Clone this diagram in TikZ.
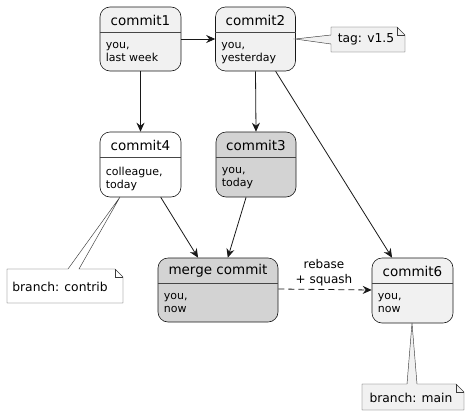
\documentclass[tikz,border=0pt]{standalone}
\usepackage{fontspec}
\setmainfont{DejaVu Sans}
\usetikzlibrary{arrows.meta}
\definecolor{boxfill}{HTML}{F1F1F1}
\definecolor{boxline}{HTML}{181818}
\definecolor{darkfill}{HTML}{D3D3D3}
\tikzset{
  statebox/.style={draw=boxline, line width=0.6pt, rounded corners=10pt, inner sep=0pt},
  titletext/.style={font=\fontsize{13.5}{16}\selectfont, inner sep=0pt, anchor=center},
  bodytext/.style={font=\fontsize{11}{13.5}\selectfont, inner sep=0pt, align=left, anchor=north west},
  notebox/.style={draw=boxline!85, line width=0.45pt},
  notetext/.style={font=\fontsize{12.3}{14}\selectfont, inner sep=0pt},
  flow/.style={draw=boxline, line width=0.8pt, -{Stealth[length=9pt,width=8pt,inset=3pt]}},
  edgelabel/.style={font=\fontsize{12}{15}\selectfont, align=center, inner sep=0pt},
}
\newcommand{\commitstate}[8]{%
  % #1 name, #2 x center, #3 y center, #4 width, #5 height, #6 title, #7 body, #8 fill
  \node[statebox, fill=#8, minimum width=#4pt, minimum height=#5pt] (#1) at (#2,#3) {};
  \draw[boxline!80, line width=0.6pt] ([yshift=-26pt]#1.north west) -- ([yshift=-26pt]#1.north east);
  \node[titletext] (#1-title) at ([yshift=-13.5pt]#1.north) {#6};
  \node[bodytext] (#1-body) at ([xshift=6pt,yshift=-35pt]#1.north west) {#7};
}
\begin{document}
\begin{tikzpicture}[x=1pt,y=-1pt]
\useasboundingbox (0,0) rectangle (470,415);

\commitstate{c1}{140.5}{39}{81}{64}{commit1}{you,\\last week}{boxfill}
\commitstate{c2}{255.5}{39}{80}{64}{commit2}{you,\\yesterday}{boxfill}
\commitstate{c4}{140.5}{164.5}{81}{65}{commit4}{colleague,\\today}{white}
\commitstate{c3}{256}{164.5}{80}{65}{commit3}{you,\\today}{darkfill}
\commitstate{m}{218}{290}{120}{64}{merge commit}{you,\\now}{darkfill}
\commitstate{c6}{412.5}{290.5}{81}{65}{commit6}{you,\\now}{boxfill}

% notes
\path[notebox, fill=boxfill] (331,27) -- (397,27) -- (405,35) -- (405,52) -- (331,52) -- (331,44) -- (295,39) -- (331,35) -- cycle;
\draw[notebox] (397,27) -- (397,35) -- (405,35);
\node[notetext] (tag) at (366,39.5) {tag: v1.5};

\path[notebox, fill=white] (7,269) -- (68,269) -- (120,197) -- (79,269) -- (115,269) -- (123,277) -- (123,303) -- (7,303) -- cycle;
\draw[notebox] (115,269) -- (115,277) -- (123,277);
\node[notetext] (contrib) at (60,286.5) {branch: contrib};

\path[notebox, fill=boxfill] (362,384) -- (407,384) -- (412,323) -- (417,384) -- (456,384) -- (464,392) -- (464,410) -- (362,410) -- cycle;
\draw[notebox] (456,384) -- (456,392) -- (464,392);
\node[notetext] (mainnote) at (411,397.5) {branch: main};

% connectors
\draw[flow] (c1) -- (c2);
\draw[flow] (c1) -- (c4);
\draw[flow] (c2.south) -- (c3.north);
\draw[flow] (c2) -- (c6);
\draw[flow] (c4) -- (m);
\draw[flow] (c3) -- (m);
\draw[flow, dashed, dash pattern=on 6pt off 4pt] ([yshift=1pt]m.east) -- ([yshift=0.5pt]c6.west);
\node[edgelabel] (lbl) at (324,272.5) {rebase\\+ squash};
\end{tikzpicture}
\end{document}
